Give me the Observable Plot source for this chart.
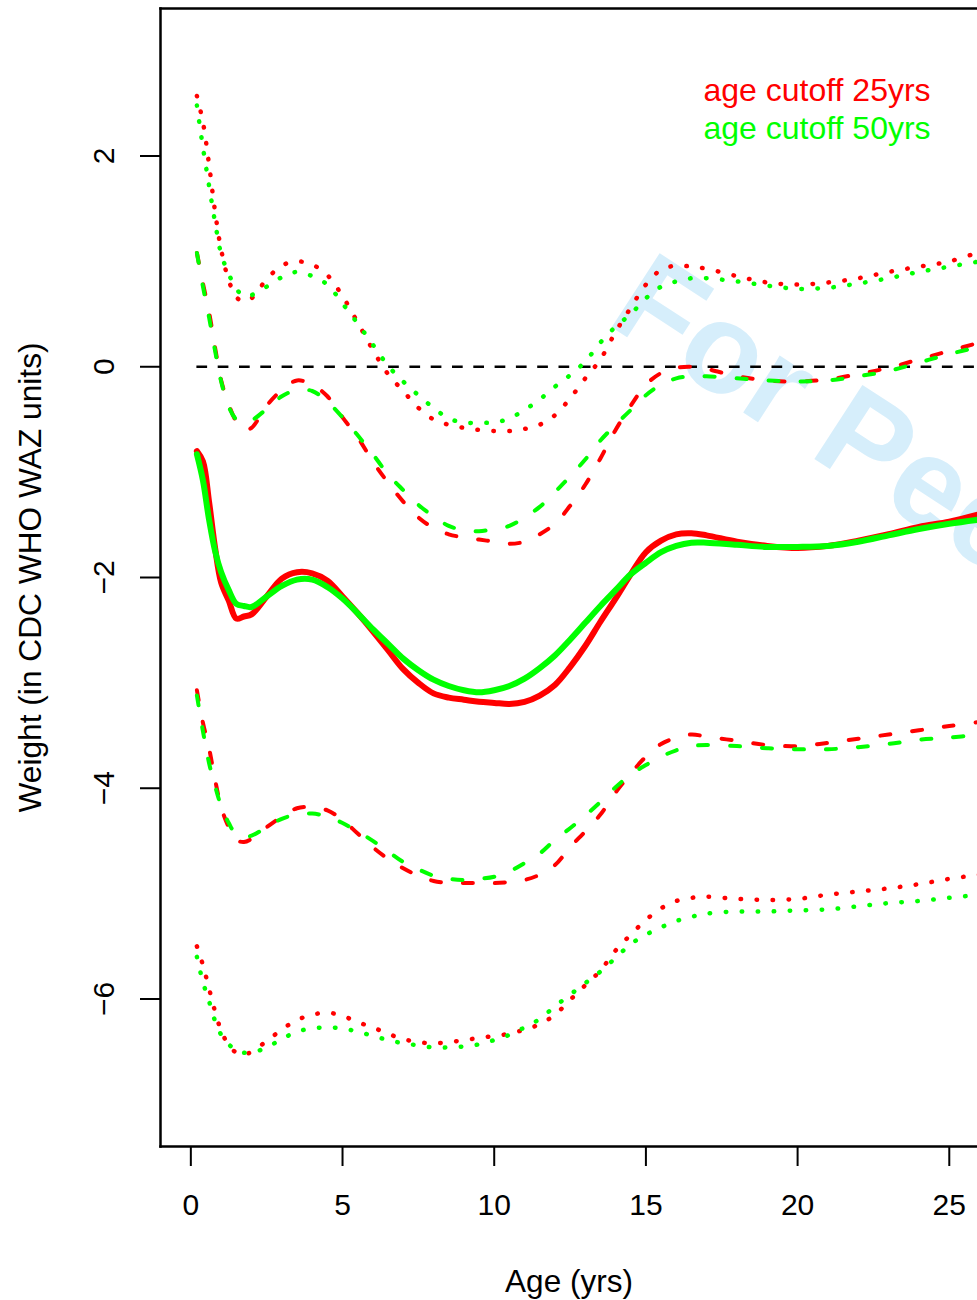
<!DOCTYPE html>
<html>
<head>
<meta charset="utf-8">
<script src="https://cdn.jsdelivr.net/npm/d3@7"></script>
<script src="https://cdn.jsdelivr.net/npm/@observablehq/plot@0.6"></script>
<style>
  html, body { margin: 0; padding: 0; background: #ffffff; }
  #chart svg { display: block; }
</style>
</head>
<body>
<div id="chart"></div>
<script>
// ---- data ----
const ages = [0.2, 0.4, 0.6, 0.8, 1.0, 1.25, 1.5, 1.75, 2.0, 2.5, 3.0, 3.5, 4.0, 4.5, 5.0, 5.5, 6.0, 6.5, 7.0, 7.5, 8.0, 8.5, 9.0, 9.5, 10.0, 10.5, 11.0, 11.5, 12.0, 12.5, 13.0, 13.5, 14.0, 14.5, 15.0, 15.5, 16.0, 16.5, 17.0, 18.0, 19.0, 20.0, 21.0, 22.0, 23.0, 24.0, 25.0, 26.0];

// age cutoff 25yrs (red)
const med25    = [-0.80, -0.90, -1.28, -1.72, -2.05, -2.22, -2.39, -2.37, -2.35, -2.18, -2.01, -1.95, -1.96, -2.03, -2.18, -2.34, -2.51, -2.69, -2.87, -3.00, -3.10, -3.14, -3.16, -3.18, -3.19, -3.20, -3.18, -3.12, -3.02, -2.85, -2.65, -2.42, -2.20, -1.97, -1.76, -1.65, -1.59, -1.58, -1.60, -1.66, -1.70, -1.72, -1.70, -1.65, -1.59, -1.52, -1.47, -1.40];
const hiDash25 = [1.08, 0.79, 0.52, 0.18, -0.13, -0.36, -0.52, -0.60, -0.58, -0.37, -0.22, -0.13, -0.17, -0.28, -0.48, -0.67, -0.90, -1.10, -1.28, -1.43, -1.53, -1.59, -1.62, -1.64, -1.66, -1.68, -1.66, -1.59, -1.49, -1.32, -1.12, -0.87, -0.60, -0.37, -0.17, -0.06, -0.01, 0.00, -0.02, -0.09, -0.13, -0.14, -0.12, -0.07, -0.01, 0.07, 0.15, 0.23];
const loDash25 = [-3.07, -3.38, -3.62, -3.92, -4.18, -4.37, -4.49, -4.51, -4.48, -4.37, -4.27, -4.19, -4.18, -4.21, -4.30, -4.43, -4.56, -4.67, -4.76, -4.83, -4.88, -4.90, -4.90, -4.90, -4.90, -4.89, -4.87, -4.82, -4.73, -4.56, -4.41, -4.25, -4.04, -3.86, -3.70, -3.58, -3.52, -3.49, -3.51, -3.55, -3.59, -3.60, -3.57, -3.53, -3.49, -3.45, -3.41, -3.37];
const hiDot25  = [2.57, 2.32, 1.92, 1.47, 1.11, 0.82, 0.66, 0.62, 0.65, 0.83, 0.96, 1.00, 0.97, 0.87, 0.67, 0.42, 0.16, -0.07, -0.23, -0.39, -0.50, -0.55, -0.58, -0.60, -0.61, -0.61, -0.59, -0.55, -0.46, -0.30, -0.11, 0.07, 0.33, 0.56, 0.78, 0.92, 0.96, 0.95, 0.93, 0.86, 0.80, 0.78, 0.80, 0.84, 0.90, 0.95, 1.00, 1.09];
const loDot25  = [-5.50, -5.68, -5.90, -6.12, -6.30, -6.44, -6.51, -6.53, -6.50, -6.40, -6.29, -6.20, -6.15, -6.13, -6.16, -6.22, -6.27, -6.33, -6.38, -6.41, -6.42, -6.41, -6.39, -6.37, -6.35, -6.33, -6.29, -6.24, -6.15, -6.01, -5.87, -5.73, -5.54, -5.39, -5.25, -5.14, -5.07, -5.04, -5.03, -5.05, -5.06, -5.05, -5.01, -4.98, -4.95, -4.91, -4.86, -4.82];

// age cutoff 50yrs (green)
const med50    = [-0.83, -1.08, -1.45, -1.75, -1.95, -2.12, -2.25, -2.27, -2.28, -2.18, -2.08, -2.02, -2.02, -2.09, -2.20, -2.34, -2.49, -2.63, -2.77, -2.88, -2.97, -3.03, -3.07, -3.09, -3.07, -3.03, -2.96, -2.86, -2.74, -2.59, -2.43, -2.27, -2.12, -1.97, -1.86, -1.76, -1.70, -1.67, -1.67, -1.69, -1.71, -1.71, -1.70, -1.66, -1.60, -1.54, -1.49, -1.45];
const hiDash50 = [1.08, 0.76, 0.47, 0.15, -0.14, -0.38, -0.50, -0.53, -0.51, -0.40, -0.28, -0.22, -0.23, -0.33, -0.48, -0.65, -0.83, -1.02, -1.17, -1.31, -1.42, -1.51, -1.55, -1.56, -1.54, -1.51, -1.43, -1.33, -1.19, -1.04, -0.88, -0.70, -0.55, -0.41, -0.27, -0.17, -0.11, -0.09, -0.09, -0.11, -0.13, -0.14, -0.13, -0.09, -0.04, 0.04, 0.12, 0.19];
const loDash50 = [-3.12, -3.46, -3.76, -3.98, -4.17, -4.33, -4.44, -4.46, -4.45, -4.37, -4.29, -4.25, -4.24, -4.27, -4.33, -4.41, -4.50, -4.60, -4.70, -4.77, -4.83, -4.86, -4.87, -4.86, -4.84, -4.79, -4.71, -4.62, -4.49, -4.38, -4.26, -4.13, -3.99, -3.87, -3.78, -3.70, -3.64, -3.60, -3.59, -3.60, -3.62, -3.63, -3.63, -3.61, -3.58, -3.54, -3.52, -3.49];
const hiDot50  = [2.48, 2.08, 1.72, 1.37, 1.07, 0.88, 0.74, 0.67, 0.68, 0.76, 0.85, 0.90, 0.86, 0.78, 0.60, 0.41, 0.21, 0.01, -0.14, -0.27, -0.39, -0.49, -0.53, -0.53, -0.53, -0.49, -0.41, -0.31, -0.19, -0.08, 0.05, 0.23, 0.38, 0.50, 0.65, 0.76, 0.81, 0.84, 0.84, 0.81, 0.77, 0.74, 0.75, 0.79, 0.84, 0.90, 0.95, 1.00];
const loDot50  = [-5.60, -5.84, -6.02, -6.21, -6.34, -6.43, -6.49, -6.51, -6.51, -6.46, -6.38, -6.31, -6.28, -6.27, -6.28, -6.31, -6.35, -6.39, -6.42, -6.44, -6.46, -6.46, -6.45, -6.43, -6.39, -6.34, -6.27, -6.19, -6.07, -5.96, -5.85, -5.74, -5.61, -5.48, -5.39, -5.32, -5.26, -5.22, -5.19, -5.17, -5.17, -5.16, -5.15, -5.12, -5.09, -5.07, -5.04, -5.01];

const xTicks = [0, 5, 10, 15, 20, 25];
const yTicks = [-6, -4, -2, 0, 2];
const legendLabels = ["age cutoff 25yrs", "age cutoff 50yrs"];
const seriesColors = ["#ff0000", "#00ff00"];
const xTitle = "Age (yrs)";
const yTitle = "Weight (in CDC WHO WAZ units)";
const watermark = "For Peer Review";

// ---- chart ----
const rows = vals => ages.map((a, i) => ({age: a, v: vals[i]}));
const font = "'Liberation Sans', Arial, Helvetica, sans-serif";

const solidStyle  = {strokeWidth: 6, strokeLinejoin: "round", strokeLinecap: "round", curve: "catmull-rom", clip: true};
const dashedStyle = {strokeWidth: 4, strokeDasharray: "10 22", strokeLinecap: "round", curve: "catmull-rom", clip: true};
const dottedStyle = {strokeWidth: 4.5, strokeDasharray: "0.5 15.5", strokeLinecap: "round", curve: "catmull-rom", clip: true};

const series = [
  [hiDot25, seriesColors[0], dottedStyle], [hiDot50, seriesColors[1], dottedStyle],
  [hiDash25, seriesColors[0], dashedStyle], [hiDash50, seriesColors[1], dashedStyle],
  [med25, seriesColors[0], solidStyle], [med50, seriesColors[1], solidStyle],
  [loDash25, seriesColors[0], dashedStyle], [loDash50, seriesColors[1], dashedStyle],
  [loDot25, seriesColors[0], dottedStyle], [loDot50, seriesColors[1], dottedStyle]
];

const chart = Plot.plot({
  width: 977,
  height: 1300,
  marginLeft: 160,
  marginRight: 0,
  marginTop: 8,
  marginBottom: 154,
  style: {fontFamily: font, background: "#ffffff", color: "#000000"},
  x: {domain: [-1, 25.93]},
  y: {domain: [-7.4, 3.4]},
  marks: [
    // watermark (under everything)
    Plot.text([watermark], {frameAnchor: "top-left", dx: 444, dy: 314, rotate: 33,
      textAnchor: "start", lineAnchor: "bottom", fontSize: 128, fontWeight: "bold", fill: "#d6eefb"}),
    // zero reference line
    Plot.ruleY([0], {x1: ages[0], x2: ages[ages.length - 1], stroke: "#000000", strokeWidth: 2.5,
      strokeDasharray: "10.7 10.6", clip: true}),
    // curves
    ...series.map(([vals, color, st]) => Plot.line(rows(vals), {x: "age", y: "v", stroke: color, ...st})),
    // box (top, left, bottom)
    Plot.frame({anchor: "top", strokeWidth: 2.5}),
    Plot.frame({anchor: "left", strokeWidth: 2.5}),
    Plot.frame({anchor: "bottom", strokeWidth: 2.5}),
    // axes
    Plot.axisX({ticks: xTicks, tickSize: 20, tickPadding: 27, fontSize: 30, strokeWidth: 2,
      tickFormat: d3.format("d"), label: null}),
    Plot.axisY({ticks: yTicks, tickSize: 20, strokeWidth: 2, tickFormat: () => "", label: null}),
    Plot.text(yTicks, {y: d => d, frameAnchor: "left", dx: -56, rotate: -90, text: d3.format("d"),
      fontSize: 30, textAnchor: "middle", lineAnchor: "middle", fill: "#000000"}),
    // axis titles
    Plot.text([yTitle], {frameAnchor: "left", dx: -130, rotate: -90, fontSize: 31.7,
      textAnchor: "middle", lineAnchor: "middle", fill: "#000000"}),
    Plot.text([xTitle], {frameAnchor: "bottom", dy: 145, fontSize: 31.5,
      textAnchor: "middle", lineAnchor: "bottom", fill: "#000000"}),
    // legend
    Plot.text([legendLabels[0]], {frameAnchor: "top-left", dx: 543, dy: 92, fontSize: 32,
      textAnchor: "start", lineAnchor: "bottom", fill: seriesColors[0]}),
    Plot.text([legendLabels[1]], {frameAnchor: "top-left", dx: 543, dy: 130, fontSize: 32,
      textAnchor: "start", lineAnchor: "bottom", fill: seriesColors[1]})
  ]
});

document.getElementById("chart").appendChild(chart);
</script>
</body>
</html>
